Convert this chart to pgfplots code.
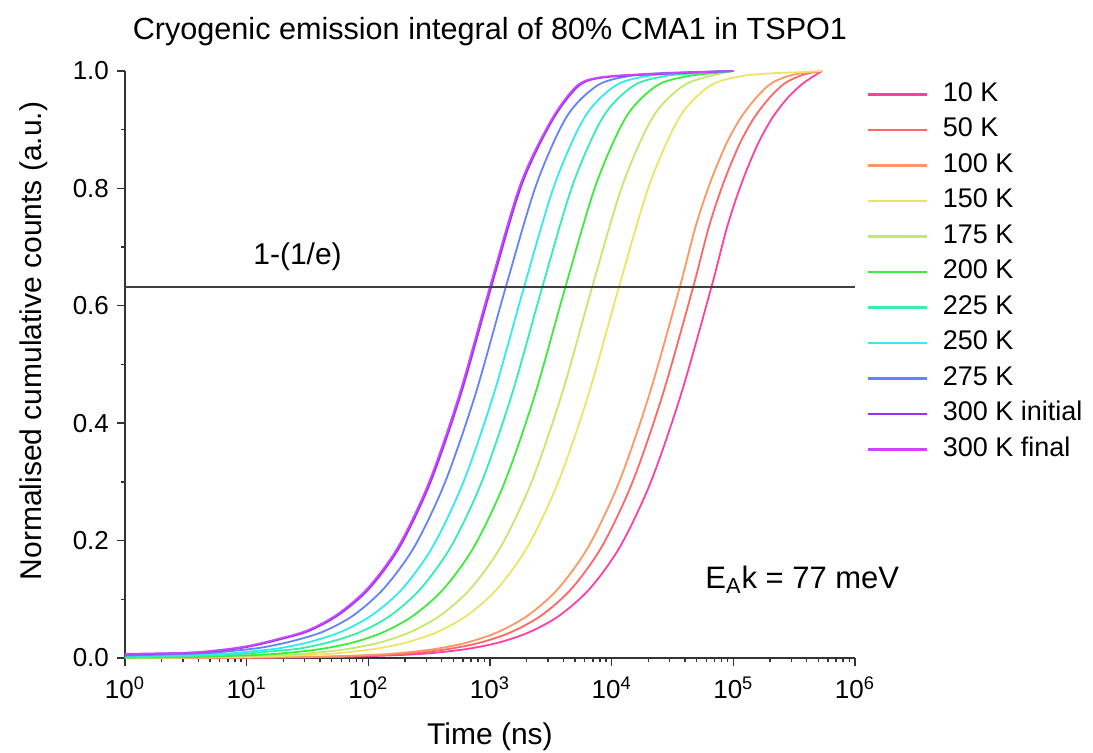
\documentclass[border=0pt]{standalone}
\usepackage{pgfplots}
\pgfplotsset{compat=1.18}
\usepackage{fontspec}
\setmainfont{Liberation Sans}
\definecolor{c10}{RGB}{255,64,160}
\definecolor{c50}{RGB}{255,102,102}
\definecolor{c100}{RGB}{255,150,100}
\definecolor{c150}{RGB}{238,228,100}
\definecolor{c175}{RGB}{195,232,110}
\definecolor{c200}{RGB}{60,235,60}
\definecolor{c225}{RGB}{50,240,170}
\definecolor{c250}{RGB}{50,235,240}
\definecolor{c275}{RGB}{100,130,255}
\definecolor{c300i}{RGB}{150,50,255}
\definecolor{c300f}{RGB}{205,70,255}
\begin{document}
\begin{tikzpicture}
\begin{axis}[
  scale only axis, width=365pt, height=293.5pt,
  xmin=0, xmax=6, ymin=0, ymax=1,
  clip=false,
  axis x line*=bottom, axis y line*=left,
  axis line style={-, line width=0.8pt, black!80},
  tick align=outside, major tick length=4pt, minor tick length=2pt,
  tick style={line width=0.7pt, black!80},
  xtick={0,1,2,3,4,5,6},
  xticklabels={10\textsuperscript{0},10\textsuperscript{1},10\textsuperscript{2},10\textsuperscript{3},10\textsuperscript{4},10\textsuperscript{5},10\textsuperscript{6}},
  minor xtick={0.301,0.477,0.602,0.699,0.778,0.845,0.903,0.954,
    1.301,1.477,1.602,1.699,1.778,1.845,1.903,1.954,
    2.301,2.477,2.602,2.699,2.778,2.845,2.903,2.954,
    3.301,3.477,3.602,3.699,3.778,3.845,3.903,3.954,
    4.301,4.477,4.602,4.699,4.778,4.845,4.903,4.954,
    5.301,5.477,5.602,5.699,5.778,5.845,5.903,5.954},
  ytick={0,0.2,0.4,0.6,0.8,1.0},
  minor ytick={0.1,0.3,0.5,0.7,0.9},
  /pgf/number format/fixed, /pgf/number format/fixed zerofill, /pgf/number format/precision=1,
  /pgf/number format/assume math mode=true,
  ticklabel style={font=\fontsize{13}{15}\selectfont},
  xticklabel style={yshift=-2pt},
  yticklabel style={xshift=-0.5pt},
  title={Cryogenic emission integral of 80\% CMA1 in TSPO1},
  title style={font=\fontsize{15.3}{18}\selectfont, at={(0.5,1)}, anchor=base, yshift=9.5pt},
  xlabel={Time (ns)},
  xlabel style={font=\fontsize{15}{18}\selectfont, at={(0.5,0)}, anchor=base, yshift=-43.5pt},
  ylabel={Normalised cumulative counts (a.u.)},
  ylabel style={font=\fontsize{15}{18}\selectfont, at={(0,0.54)}, anchor=base, yshift=41.5pt},
  legend style={at={(1,1)}, anchor=north west, xshift=5.5pt, yshift=-5pt, draw=none, fill=none,
    font=\fontsize{13.5}{16}\selectfont, row sep=4.75pt, inner sep=0pt,
    nodes={inner sep=0pt, text height=10pt, text depth=3pt}, column sep=7.5pt},
  legend cell align=left,
  legend image code/.code={\draw[#1, line width=1.2pt] (0pt,0pt) -- (29.5pt,0pt);},
  every axis plot/.append style={line width=0.9pt, smooth},
]
\addplot[c10] coordinates {(0,0.0001) (0.82,0.0003) (1.32,0.0008) (1.82,0.002) (2.32,0.0056) (2.57,0.0094) (2.82,0.0157) (3.07,0.0262) (3.32,0.0437) (3.57,0.0722) (3.82,0.118) (4.07,0.19) (4.32,0.299) (4.57,0.449) (4.82,0.632) (4.95,0.735) (5.07,0.81) (5.2,0.875) (5.32,0.92) (5.45,0.955) (5.58,0.98) (5.73,1.0)};
\addlegendentry{10 K}
\addplot[c50] coordinates {(0,0.0001) (0.67,0.0003) (1.17,0.0008) (1.67,0.002) (2.17,0.0056) (2.42,0.0094) (2.67,0.0157) (2.92,0.0262) (3.17,0.0437) (3.42,0.0722) (3.67,0.118) (3.92,0.19) (4.17,0.299) (4.42,0.449) (4.67,0.632) (4.8,0.735) (4.92,0.81) (5.05,0.875) (5.17,0.92) (5.3,0.955) (5.43,0.98) (5.58,0.994) (5.73,1.0)};
\addlegendentry{50 K}
\addplot[c100] coordinates {(0,0.0001) (0.56,0.0003) (1.06,0.0008) (1.56,0.002) (2.06,0.0056) (2.31,0.0094) (2.56,0.0157) (2.81,0.0262) (3.06,0.0437) (3.31,0.0722) (3.56,0.118) (3.81,0.19) (4.06,0.299) (4.31,0.449) (4.56,0.632) (4.69,0.735) (4.81,0.81) (4.94,0.875) (5.06,0.92) (5.19,0.955) (5.32,0.98) (5.5,0.994) (5.73,1.0)};
\addlegendentry{100 K}
\addplot[c150] coordinates {(0,0.0002) (0.56,0.0008) (1.06,0.002) (1.56,0.0056) (1.81,0.0094) (2.06,0.0157) (2.31,0.0262) (2.56,0.0437) (2.81,0.0722) (3.06,0.118) (3.31,0.19) (3.56,0.299) (3.81,0.449) (4.06,0.632) (4.31,0.806) (4.56,0.922) (4.81,0.975) (5.06,0.991) (5.31,0.996) (5.56,0.998) (5.73,1.0)};
\addlegendentry{150 K}
\addplot[c175] coordinates {(0,0.0003) (0.34,0.0008) (0.84,0.002) (1.34,0.0056) (1.59,0.0094) (1.84,0.0157) (2.09,0.0262) (2.34,0.0437) (2.59,0.0722) (2.84,0.118) (3.09,0.19) (3.34,0.299) (3.59,0.449) (3.84,0.632) (4.09,0.806) (4.34,0.922) (4.59,0.975) (4.84,0.993) (5.0,1.0)};
\addlegendentry{175 K}
\addplot[c200] coordinates {(0,0.0005) (0.62,0.002) (1.12,0.0056) (1.37,0.0094) (1.62,0.0157) (1.87,0.0262) (2.12,0.0437) (2.37,0.0722) (2.62,0.118) (2.87,0.19) (3.12,0.299) (3.37,0.449) (3.62,0.632) (3.87,0.806) (4.12,0.922) (4.37,0.975) (4.62,0.991) (4.87,0.997) (5.0,1.0)};
\addlegendentry{200 K}
\addplot[c225] coordinates {(0,0.002) (0.43,0.003) (0.93,0.0066) (1.18,0.011) (1.43,0.016) (1.68,0.027) (1.93,0.044) (2.18,0.072) (2.43,0.118) (2.68,0.19) (2.93,0.299) (3.18,0.449) (3.43,0.632) (3.68,0.806) (3.93,0.922) (4.18,0.975) (4.43,0.991) (4.68,0.996) (5.0,1.0)};
\addlegendentry{225 K}
\addplot[c250] coordinates {(0,0.003) (0.78,0.007) (1.03,0.011) (1.28,0.017) (1.53,0.028) (1.78,0.045) (2.03,0.073) (2.28,0.118) (2.53,0.19) (2.78,0.299) (3.03,0.449) (3.28,0.632) (3.53,0.806) (3.78,0.922) (4.03,0.975) (4.28,0.991) (4.53,0.996) (4.78,0.998) (5.0,1.0)};
\addlegendentry{250 K}
\addplot[c275] coordinates {(0,0.004) (0.63,0.008) (0.88,0.012) (1.13,0.018) (1.38,0.029) (1.63,0.045) (1.88,0.073) (2.13,0.119) (2.38,0.19) (2.63,0.299) (2.88,0.449) (3.13,0.632) (3.38,0.806) (3.63,0.922) (3.88,0.975) (4.13,0.991) (4.38,0.996) (4.63,0.998) (5.0,1.0)};
\addlegendentry{275 K}
\addplot[c300i] coordinates {(0,0.006) (0.51,0.0086) (0.76,0.012) (1.01,0.019) (1.26,0.031) (1.51,0.046) (1.76,0.074) (2.01,0.119) (2.26,0.19) (2.51,0.299) (2.76,0.449) (3.01,0.632) (3.26,0.806) (3.51,0.915) (3.72,0.973) (3.9,0.988) (4.3,0.994) (5.0,1.0)};
\addlegendentry{300 K initial}
\addplot[c300f] coordinates {(0,0.007) (0.5,0.009) (0.75,0.013) (1.0,0.02) (1.25,0.032) (1.5,0.047) (1.75,0.075) (2.0,0.12) (2.25,0.191) (2.5,0.3) (2.75,0.45) (3.0,0.633) (3.25,0.807) (3.5,0.915) (3.71,0.974) (3.9,0.989) (4.3,0.995) (5.0,1.0)};
\addlegendentry{300 K final}
\addplot[black!75, line width=1pt, sharp plot, forget plot] coordinates {(0,0.632) (6,0.632)};
\node[anchor=base west, inner sep=0pt, font=\fontsize{15}{18}\selectfont] at (axis cs:1.052,0.67) {1-(1/e)};
\node[anchor=base west, inner sep=0pt, font=\fontsize{15.5}{18}\selectfont] at (axis cs:4.767,0.119) {E\textsubscript{A}k = 77 meV};
\end{axis}
\pgfresetboundingbox
\path[use as bounding box] (-62.5pt,-47.5pt) rectangle (484pt,329pt);
\end{tikzpicture}
\end{document}
